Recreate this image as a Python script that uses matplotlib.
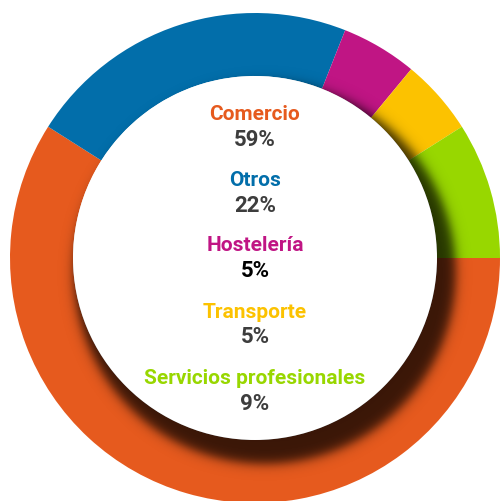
import numpy as np
import matplotlib
matplotlib.use("Agg")
import matplotlib.pyplot as plt
from matplotlib.patches import Circle

categories = ["Comercio", "Otros", "Hostelería", "Transporte", "Servicios profesionales"]
values = [59, 22, 5, 5, 9]
pct_labels = ["59%", "22%", "5%", "5%", "9%"]
colors = ["#E65A1E", "#026EAA", "#C01584", "#FCC200", "#98D700"]
pct_colors = ["#3d3d3d", "#3d3d3d", "#000000", "#3d3d3d", "#3d3d3d"]

W, H = 500, 502
fig = plt.figure(figsize=(W / 100, H / 100), dpi=100)
ax = fig.add_axes([0, 0, 1, 1])

cx, cy = 255, H - 259
R, r = 245, 182

wedges, _ = ax.pie(values, colors=colors, startangle=0, counterclock=False,
                   center=(cx, cy), radius=R, frame=True,
                   wedgeprops=dict(width=R - r, linewidth=0))

# soft shadow under the inner circle
sx, sy, rs, w = cx + 10, cy - 15, 191, 6.5
xs = np.linspace(0, W, W * 2)
ys = np.linspace(0, H, H * 2)
X, Y = np.meshgrid(xs, ys)
D = np.hypot(X - sx, Y - sy)
alpha = 0.75 * 0.5 * (1 - np.tanh((D - rs) / w))
img = np.zeros((len(ys), len(xs), 4))
img[..., 3] = alpha
im = ax.imshow(img, extent=(0, W, 0, H), origin="lower", zorder=3, interpolation="bilinear")
clip = Circle((cx, cy), R, transform=ax.transData, facecolor="none", edgecolor="none")
ax.add_patch(clip)
im.set_clip_path(clip)

ax.add_patch(Circle((cx, cy), r, facecolor="white", edgecolor="none", zorder=4))

name_y = [115, 181, 246, 312, 379]
for cat, pct, col, pcol, yy in zip(categories, pct_labels, colors, pct_colors, name_y):
    ax.text(255, H - yy, cat, color=col, ha="center", va="center", fontsize=15,
            fontweight="bold", family="Roboto", zorder=5)
    ax.text(255, H - yy - 25, pct, color=pcol, ha="center", va="center", fontsize=16,
            fontweight="bold", family="Roboto", zorder=5)

ax.set_xlim(0, W)
ax.set_ylim(0, H)
ax.set_aspect("auto")
ax.axis("off")
fig.savefig("out.png", dpi=100, facecolor="white")
